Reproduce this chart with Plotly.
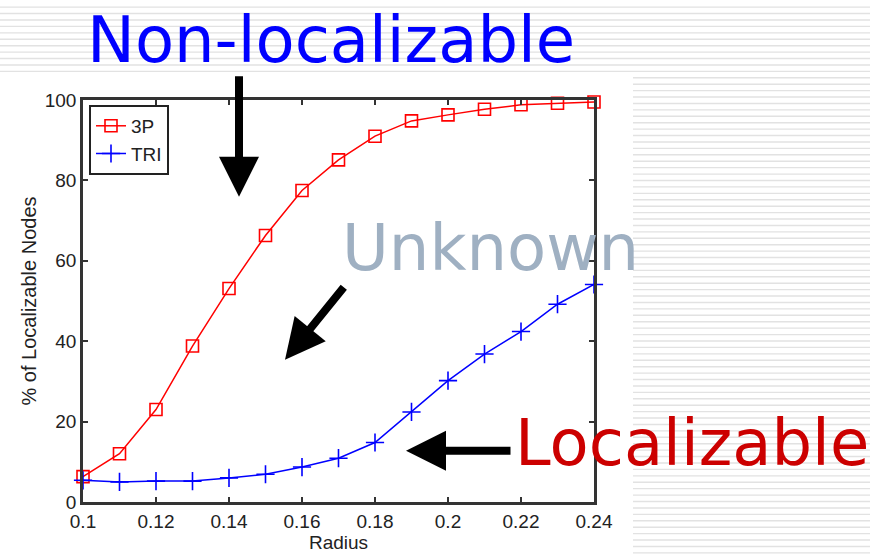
import plotly.graph_objects as go

# Radius values and percentage of localizable nodes for each scheme
radius = [0.10, 0.11, 0.12, 0.13, 0.14, 0.15, 0.16, 0.17, 0.18, 0.19, 0.20, 0.21, 0.22, 0.23, 0.24]
pct_3p = [6.3, 12.0, 23.0, 38.8, 53.1, 66.3, 77.5, 85.1, 91.0, 94.8, 96.3, 97.7, 98.8, 99.2, 99.5]
pct_tri = [5.4, 5.0, 5.2, 5.2, 6.0, 6.9, 8.7, 10.9, 14.8, 22.4, 30.2, 36.8, 42.4, 49.2, 54.1]

x_tickvals = [0.10, 0.12, 0.14, 0.16, 0.18, 0.20, 0.22, 0.24]
x_ticktext = ["0.1", "0.12", "0.14", "0.16", "0.18", "0.2", "0.22", "0.24"]
y_tickvals = [0, 20, 40, 60, 80, 100]

W, H = 870, 559
L, R, T, B = 83, 594, 100, 507  # plot area edges in page pixels


def px(xp):
    return (xp - L) / (R - L)


def py(yp):
    return (B - yp) / (B - T)


fig = go.Figure()
fig.add_trace(go.Scatter(
    x=radius, y=pct_3p, name="3P", mode="lines+markers", cliponaxis=False,
    line=dict(color="#ff0000", width=1.5),
    marker=dict(symbol="square-open", size=12, color="#ff0000", line=dict(width=1.6)),
))
fig.add_trace(go.Scatter(
    x=radius, y=pct_tri, name="TRI", mode="lines+markers", cliponaxis=False,
    line=dict(color="#0000ff", width=1.5),
    marker=dict(symbol="cross-thin-open", size=13, color="#0000ff", line=dict(width=1.6, color="#0000ff")),
))

# striped slide background around the chart
shapes = []
y = 6.0
while y < H:
    x0 = 0 if y < 72 else 633
    shapes.append(dict(type="line", xref="paper", yref="paper",
                       x0=px(x0), x1=px(W), y0=py(y), y1=py(y),
                       line=dict(color="#e2e2e2", width=1.4), layer="below"))
    y += 6.5

ann = []
# callout labels
ann.append(dict(text="Non-localizable", x=px(331), y=py(39), xref="paper", yref="paper",
                showarrow=False, xanchor="center", yanchor="middle",
                font=dict(family="DejaVu Sans", size=64, color="#0000ff")))
ann.append(dict(text="Unknown", x=px(490), y=py(250), xref="paper", yref="paper",
                showarrow=False, xanchor="center", yanchor="middle",
                font=dict(family="DejaVu Sans", size=64, color="#9fb0c2")))
ann.append(dict(text="Localizable", x=px(692), y=py(447), xref="paper", yref="paper",
                showarrow=False, xanchor="center", yanchor="middle",
                font=dict(family="DejaVu Sans", size=64, color="#cc0000")))

# black pointer arrows (tip position, tail offset in pixels)
arrows = [((239, 198), (0, -122)), ((285, 363), (60, -74)), ((406, 455), (106, 0))]
for (tx, ty), (ax, ay) in arrows:
    ann.append(dict(text="", x=px(tx), y=py(ty), xref="paper", yref="paper",
                    showarrow=True, ax=ax, ay=ay, arrowhead=2, arrowsize=1,
                    arrowwidth=8, arrowcolor="#000000", standoff=0))

axis_common = dict(showline=True, linecolor="#333333", linewidth=2.5, mirror="ticks",
                   ticks="inside", ticklen=5, tickcolor="#333333", tickwidth=1.5,
                   showgrid=False, zeroline=False,
                   tickfont=dict(family="Liberation Sans, Arial", size=19, color="#222222"))

fig.update_layout(
    width=W, height=H,
    margin=dict(l=L, r=W - R, t=T, b=H - B),
    paper_bgcolor="#ffffff", plot_bgcolor="#ffffff",
    shapes=shapes, annotations=ann,
    xaxis=dict(range=[0.1, 0.24], tickvals=x_tickvals, ticktext=x_ticktext,
               title=dict(text="Radius", standoff=2,
                          font=dict(family="Liberation Sans, Arial", size=19, color="#222222")),
               **axis_common),
    yaxis=dict(range=[0, 100], tickvals=y_tickvals,
               title=dict(text="% of Localizable Nodes", standoff=3,
                          font=dict(family="Liberation Sans, Arial", size=20, color="#222222")),
               **axis_common),
    legend=dict(x=px(89), y=py(105), xanchor="left", yanchor="top",
                bgcolor="#ffffff", bordercolor="#222222", borderwidth=2,
                font=dict(family="Liberation Sans, Arial", size=19, color="#222222"),
                itemwidth=30, tracegroupgap=0),
    showlegend=True,
)

fig.write_html("out.html")
